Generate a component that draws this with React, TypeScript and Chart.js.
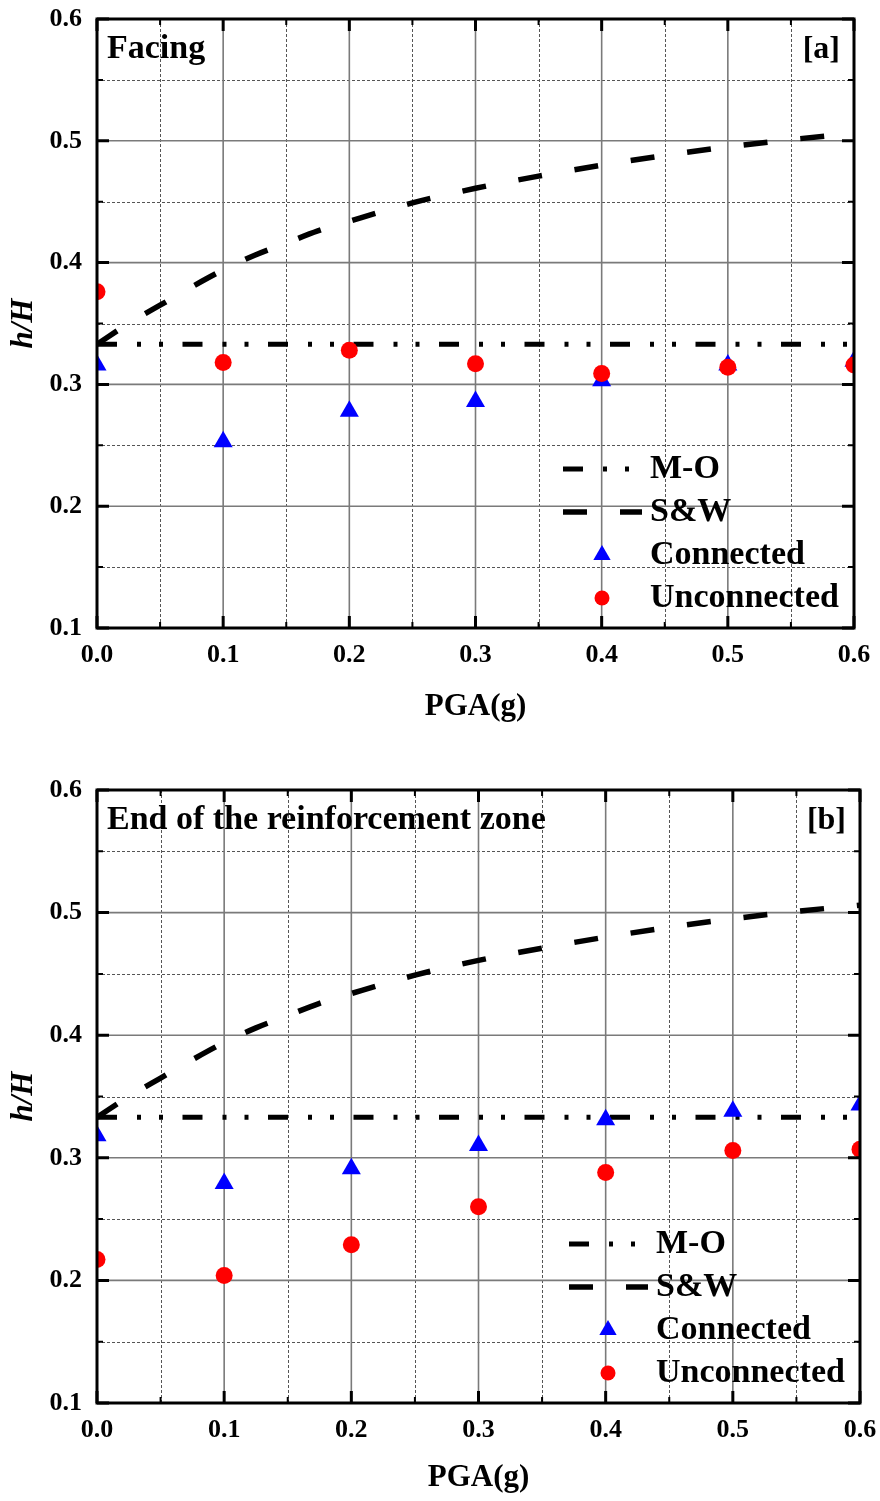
import React, { useEffect, useRef } from "react";
import { Chart, registerables } from "chart.js";

Chart.register(...registerables);

// PGA levels of the shaking-table tests (g)
const pgaLevels = [0, 0.1, 0.2, 0.3, 0.4, 0.5, 0.6];

// Height of the resultant thrust, h/H — at the facing
const facingConnected = [0.316, 0.253, 0.278, 0.286, 0.303, 0.316, 0.319];
const facingUnconnected = [0.376, 0.318, 0.328, 0.317, 0.309, 0.314, 0.316];

// Height of the resultant thrust, h/H — at the end of the reinforcement zone
const zoneConnected = [0.318, 0.279, 0.291, 0.31, 0.331, 0.338, 0.343];
const zoneUnconnected = [0.217, 0.204, 0.229, 0.26, 0.288, 0.306, 0.307];

// Mononobe–Okabe (constant H/3)
const moPga = [0, 0.6];
const moRatio = [0.333, 0.333];

// Seed & Whitman
const swPga = [0, 0.025, 0.05, 0.075, 0.1, 0.125, 0.15, 0.175, 0.2, 0.25, 0.3, 0.35, 0.4, 0.45, 0.5, 0.55, 0.6];
const swRatio = [0.333, 0.35, 0.365, 0.38, 0.394, 0.406, 0.416, 0.426, 0.434, 0.449, 0.461, 0.471, 0.48, 0.488, 0.495, 0.501, 0.506];

// Axis ranges
const xRange = [0, 0.6];
const yRange = [0.1, 0.6];
const tickStep = 0.1;

const FONT = '"Liberation Serif", "Times New Roman", serif';

const toPoints = (xs: number[], ys: number[]) => xs.map((x, i) => ({ x, y: ys[i] }));

// Grid lines (solid major, dashed minor), inward ticks on all four sides and the frame
const gridFramePlugin = {
  id: "gridFrame",
  beforeDatasetsDraw(chart: any) {
    const { ctx, chartArea: a, scales } = chart;
    const xs = scales.x;
    const ys = scales.y;
    const xMajor: number[] = xs.ticks.map((t: any) => t.value);
    const yMajor: number[] = ys.ticks.map((t: any) => t.value);
    const mids = (arr: number[]) => arr.slice(1).map((v, i) => (v + arr[i]) / 2);
    const inner = (arr: number[], lo: number, hi: number) =>
      arr.filter((v) => v > lo + 1e-9 && v < hi - 1e-9);
    ctx.save();
    const vline = (px: number) => {
      ctx.beginPath();
      ctx.moveTo(px, a.top);
      ctx.lineTo(px, a.bottom);
      ctx.stroke();
    };
    const hline = (py: number) => {
      ctx.beginPath();
      ctx.moveTo(a.left, py);
      ctx.lineTo(a.right, py);
      ctx.stroke();
    };
    ctx.strokeStyle = "#555";
    ctx.lineWidth = 1;
    ctx.setLineDash([3, 2]);
    mids(xMajor).forEach((v) => vline(Math.round(xs.getPixelForValue(v)) + 0.5));
    mids(yMajor).forEach((v) => hline(Math.round(ys.getPixelForValue(v)) + 0.5));
    ctx.setLineDash([]);
    ctx.strokeStyle = "#7a7a7a";
    ctx.lineWidth = 1.6;
    inner(xMajor, xs.min, xs.max).forEach((v) => vline(xs.getPixelForValue(v)));
    inner(yMajor, ys.min, ys.max).forEach((v) => hline(ys.getPixelForValue(v)));
    ctx.restore();
  },
  afterDatasetsDraw(chart: any) {
    const { ctx, chartArea: a, scales } = chart;
    const xs = scales.x;
    const ys = scales.y;
    const xMajor: number[] = xs.ticks.map((t: any) => t.value);
    const yMajor: number[] = ys.ticks.map((t: any) => t.value);
    const mids = (arr: number[]) => arr.slice(1).map((v, i) => (v + arr[i]) / 2);
    ctx.save();
    ctx.strokeStyle = "#000";
    const xTick = (v: number, len: number) => {
      const px = xs.getPixelForValue(v);
      ctx.beginPath();
      ctx.moveTo(px, a.bottom);
      ctx.lineTo(px, a.bottom - len);
      ctx.moveTo(px, a.top);
      ctx.lineTo(px, a.top + len);
      ctx.stroke();
    };
    const yTick = (v: number, len: number) => {
      const py = ys.getPixelForValue(v);
      ctx.beginPath();
      ctx.moveTo(a.left, py);
      ctx.lineTo(a.left + len, py);
      ctx.moveTo(a.right, py);
      ctx.lineTo(a.right - len, py);
      ctx.stroke();
    };
    ctx.lineWidth = 2;
    mids(xMajor).forEach((v) => xTick(v, 6));
    mids(yMajor).forEach((v) => yTick(v, 6));
    ctx.lineWidth = 3;
    xMajor.forEach((v) => xTick(v, 12));
    yMajor.forEach((v) => yTick(v, 12));
    ctx.lineWidth = 3;
    ctx.strokeRect(a.left, a.top, a.width, a.height);
    ctx.restore();
  },
};

// Panel caption, panel tag and the in-plot legend
const panelTextPlugin = {
  id: "panelText",
  afterDraw(chart: any, _args: any, opts: any) {
    const { ctx, chartArea: a } = chart;
    ctx.save();
    ctx.fillStyle = "#000";
    ctx.textBaseline = "alphabetic";
    ctx.font = `bold 34px ${FONT}`;
    ctx.textAlign = "left";
    ctx.fillText(opts.title, a.left + 10, a.top + 39);
    ctx.font = `bold 32px ${FONT}`;
    ctx.textAlign = "right";
    ctx.fillText(opts.tag, a.right - 14, a.top + 39);

    const sets = chart.data.datasets;
    const rowGap = 43;
    sets.forEach((ds: any, i: number) => {
      const cy = a.bottom - 30 - rowGap * (sets.length - 1 - i);
      if (ds.showLine) {
        ctx.strokeStyle = ds.borderColor;
        ctx.lineWidth = ds.borderWidth;
        ctx.lineCap = "butt";
        ctx.setLineDash(ds.borderDash || []);
        ctx.beginPath();
        ctx.moveTo(a.right - 291, cy);
        ctx.lineTo(a.right - 212, cy);
        ctx.stroke();
        ctx.setLineDash([]);
      } else {
        const mx = a.right - 252;
        ctx.fillStyle = ds.backgroundColor;
        ctx.beginPath();
        if (ds.pointStyle === "triangle") {
          const r = 10;
          ctx.moveTo(mx, cy - r);
          ctx.lineTo(mx + r * Math.sin((2 * Math.PI) / 3), cy + r / 2);
          ctx.lineTo(mx - r * Math.sin((2 * Math.PI) / 3), cy + r / 2);
          ctx.closePath();
        } else {
          ctx.arc(mx, cy, 7.5, 0, Math.PI * 2);
        }
        ctx.fill();
      }
      ctx.fillStyle = "#000";
      ctx.font = `bold 34px ${FONT}`;
      ctx.textAlign = "left";
      ctx.textBaseline = "middle";
      ctx.fillText(ds.label, a.right - 204, cy);
    });
    ctx.restore();
  },
};

type PanelSpec = {
  title: string;
  tag: string;
  connected: number[];
  unconnected: number[];
  height: number;
  padTop: number;
  padRight: number;
  axisHeight: number;
  titlePadBottom: number;
};

function buildConfig(p: PanelSpec): any {
  const tickFont = { family: FONT, size: 26, weight: "bold" as const };
  return {
    type: "scatter",
    data: {
      datasets: [
        {
          label: "M-O",
          data: toPoints(moPga, moRatio),
          showLine: true,
          borderColor: "#000",
          borderWidth: 5,
          borderDash: [20, 20, 4, 18, 4, 19.5],
          borderCapStyle: "butt",
          pointRadius: 0,
          fill: false,
          order: 3,
          clip: 0,
        },
        {
          label: "S&W",
          data: toPoints(swPga, swRatio),
          showLine: true,
          borderColor: "#000",
          borderWidth: 5.5,
          borderDash: [24, 33],
          borderCapStyle: "butt",
          cubicInterpolationMode: "monotone",
          pointRadius: 0,
          fill: false,
          order: 2,
          clip: 0,
        },
        {
          label: "Connected",
          data: toPoints(pgaLevels, p.connected),
          pointStyle: "triangle",
          pointRadius: 11,
          borderWidth: 0,
          backgroundColor: "#0000ff",
          borderColor: "#0000ff",
          order: 1,
          clip: 0,
        },
        {
          label: "Unconnected",
          data: toPoints(pgaLevels, p.unconnected),
          pointStyle: "circle",
          pointRadius: 8.5,
          borderWidth: 0,
          backgroundColor: "#ff0000",
          borderColor: "#ff0000",
          order: 0,
          clip: 0,
        },
      ],
    },
    options: {
      animation: false,
      responsive: false,
      devicePixelRatio: 1,
      events: [],
      layout: { padding: { left: 0, top: p.padTop, right: p.padRight, bottom: 0 } },
      plugins: {
        legend: { display: false },
        tooltip: { enabled: false },
        panelText: { title: p.title, tag: p.tag },
      },
      scales: {
        x: {
          type: "linear",
          min: xRange[0],
          max: xRange[1],
          afterFit: (s: any) => {
            s.height = p.axisHeight;
            s.paddingLeft = 0;
            s.paddingRight = 0;
          },
          grid: { display: false, drawTicks: false },
          border: { display: false },
          ticks: {
            stepSize: tickStep,
            padding: 12,
            color: "#000",
            font: tickFont,
            maxRotation: 0,
            autoSkip: false,
            callback: (v: any) => Number(v).toFixed(1),
          },
          title: {
            display: true,
            text: "PGA(g)",
            color: "#000",
            font: { family: FONT, size: 31, weight: "bold" },
            padding: { top: 0, bottom: p.titlePadBottom },
          },
        },
        y: {
          type: "linear",
          min: yRange[0],
          max: yRange[1],
          afterFit: (s: any) => {
            s.width = 97;
            s.paddingTop = 0;
            s.paddingBottom = 0;
          },
          grid: { display: false, drawTicks: false },
          border: { display: false },
          ticks: {
            stepSize: tickStep,
            padding: 15,
            color: "#000",
            font: tickFont,
            callback: (v: any) => Number(v).toFixed(1),
          },
          title: {
            display: true,
            text: "h/H",
            color: "#000",
            font: { family: FONT, size: 31, weight: "bold", style: "italic" },
            padding: { top: 5, bottom: 0 },
          },
        },
      },
    },
    plugins: [gridFramePlugin, panelTextPlugin],
  };
}

function ChartPanel({ top, spec }: { top: number; spec: PanelSpec }) {
  const ref = useRef<HTMLCanvasElement | null>(null);
  useEffect(() => {
    const chart = new Chart(ref.current as HTMLCanvasElement, buildConfig(spec));
    return () => chart.destroy();
  }, []);
  return (
    <canvas
      ref={ref}
      width={880}
      height={spec.height}
      style={{ position: "absolute", left: 0, top, width: 880, height: spec.height, display: "block" }}
    />
  );
}

const facingPanel: PanelSpec = {
  title: "Facing",
  tag: "[a]",
  connected: facingConnected,
  unconnected: facingUnconnected,
  height: 740,
  padTop: 19,
  padRight: 26,
  axisHeight: 112,
  titlePadBottom: 14,
};

const zonePanel: PanelSpec = {
  title: "End of the reinforcement zone",
  tag: "[b]",
  connected: zoneConnected,
  unconnected: zoneUnconnected,
  height: 741,
  padTop: 30,
  padRight: 20,
  axisHeight: 98,
  titlePadBottom: 4,
};

export default function App() {
  return (
    <div style={{ position: "absolute", left: 0, top: 0, width: 880, height: 1501, background: "#fff" }}>
      <ChartPanel top={0} spec={facingPanel} />
      <ChartPanel top={760} spec={zonePanel} />
    </div>
  );
}
